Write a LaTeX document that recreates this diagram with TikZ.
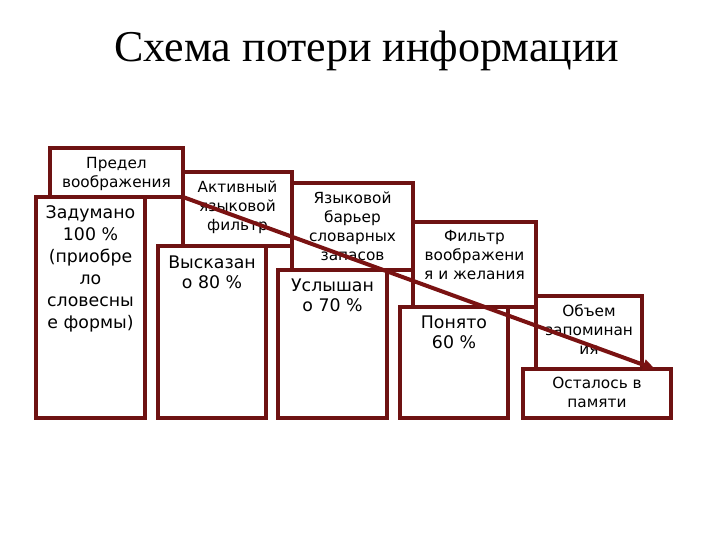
\documentclass[tikz,border=0pt]{standalone}
\usepackage{fontspec}
\setmainfont{Liberation Serif}
\newfontfamily\boxfont{DejaVu Sans}
\usetikzlibrary{fit,arrows.meta}
\definecolor{maroon}{RGB}{110,18,18}
\definecolor{arrowred}{RGB}{122,18,18}
\tikzset{
  boxshape/.style={draw=maroon, line width=2.3pt, fill=white, inner sep=0pt, outer sep=0pt},
  ftxt/.style={font=\boxfont\fontsize{11.5}{14.3}\selectfont, align=center, inner sep=0pt, anchor=north},
  rtxt/.style={font=\boxfont\fontsize{13}{15}\selectfont, align=center, inner sep=0pt, anchor=north},
  losst/.style={draw=arrowred, line width=3pt, -{Triangle[length=9pt,width=8pt]}},
}
\begin{document}
\begin{tikzpicture}[x=0.75pt,y=-0.75pt]
\useasboundingbox (0,0) rectangle (720,540);
% title
\node[font=\fontsize{33}{38}\selectfont, anchor=base] (title) at (367,61) {Схема потери информации};
% filter boxes
\node[boxshape, fit={(50,148) (183,197)}] (f1) {};
\node[boxshape, fit={(183,172) (292,246)}] (f2) {};
\node[boxshape, fit={(292,183) (413,270)}] (f3) {};
\node[boxshape, fit={(413,222) (536,307)}] (f4) {};
\node[boxshape, fit={(536,296) (642,369)}] (f5) {};
% result boxes
\node[boxshape, fit={(36,197) (145,418)}] (r1) {};
\node[boxshape, fit={(158,246) (266,418)}] (r2) {};
\node[boxshape, fit={(278,270) (387,418)}] (r3) {};
\node[boxshape, fit={(400,307) (508,418)}] (r4) {};
\node[boxshape, fit={(523,369) (671,418)}] (r5) {};
% texts
\node[ftxt] (f1t) at ([yshift=-6.5pt]f1.north) {Предел\\воображения};
\node[ftxt] (f2t) at ([yshift=-6.5pt]f2.north) {Активный\\языковой\\фильтр};
\node[ftxt] (f3t) at ([yshift=-6.5pt]f3.north) {Языковой\\барьер\\словарных\\запасов};
\node[ftxt] (f4t) at ([yshift=-6pt]f4.north) {Фильтр\\воображени\\я и желания};
\node[ftxt] (f5t) at ([yshift=-6pt]f5.north) {Объем\\запоминан\\ия};
\node[rtxt, font=\boxfont\fontsize{13}{16.5}\selectfont] (r1t) at ([yshift=-6.5pt]r1.north) {Задумано\\100 \%\\(приобре\\ло\\словесны\\е формы)};
\node[rtxt] (r2t) at ([yshift=-7pt]r2.north) {Высказан\\о 80 \%};
\node[rtxt] (r3t) at ([yshift=-6.5pt]r3.north) {Услышан\\о 70 \%};
\node[rtxt] (r4t) at ([yshift=-6.5pt]r4.north) {Понято\\60 \%};
\node[ftxt] (r5t) at ([yshift=-6pt]r5.north) {Осталось в\\памяти};
% arrow
\coordinate (tip) at ([xshift=-12pt]r5.north east);
\draw[losst] (f1.south east) -- (tip);
\end{tikzpicture}
\end{document}
